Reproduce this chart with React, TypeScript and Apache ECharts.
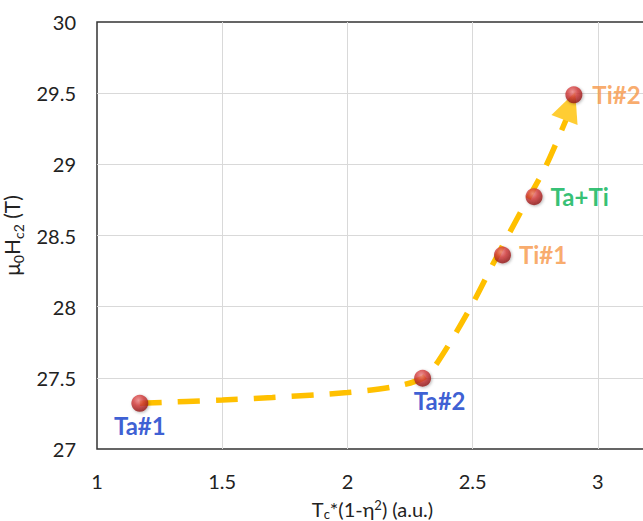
import React, { useEffect, useRef } from "react";
import * as echarts from "echarts";

// Samples
const sampleNames = ["Ta#1", "Ta#2", "Ti#1", "Ta+Ti", "Ti#2"];
const tcEta = [1.171, 2.3, 2.619, 2.745, 2.904];
const hc2 = [27.321, 27.497, 28.363, 28.773, 29.488];
const labelColors = ["#0A36C8", "#0A36C8", "#F79646", "#00B050", "#F79646"];

// Hand-drawn trend arrow path
const trendX = [1.171, 1.5, 1.7, 2.0, 2.18, 2.3, 2.36, 2.49, 2.59, 2.69, 2.79, 2.872];
const trendY = [27.321, 27.344, 27.362, 27.397, 27.436, 27.497, 27.61, 27.99, 28.33, 28.66, 28.98, 29.31];
const arrowHeadX = [2.888];
const arrowHeadY = [29.41];

// Axes
const xMin = 1;
const xMax = 3.2;
const xStep = 0.5;
const yMin = 27;
const yMax = 30;
const yStep = 0.5;

const FONT = "Lato";

export default function App() {
  const ref = useRef<HTMLDivElement>(null);

  useEffect(() => {
    if (!ref.current) return;
    const chart = echarts.init(ref.current, null, { renderer: "svg" });

    const sphere = new echarts.graphic.RadialGradient(0.42, 0.32, 0.7, [
      { offset: 0, color: "#f28a8a" },
      { offset: 0.45, color: "#d33a3a" },
      { offset: 1, color: "#8a1212" },
    ]);

    const labelPos: any[] = [
      { position: "bottom", distance: 2, offset: [0, 0] },
      { position: "bottom", distance: 2, offset: [17, 0] },
      { position: "right", distance: 8, offset: [0, 0] },
      { position: "right", distance: 8, offset: [0, 0] },
      { position: "right", distance: 10, offset: [0, 0] },
    ];

    const pointData = sampleNames.map((n, i) => ({
      name: n,
      value: [tcEta[i], hc2[i]],
      label: {
        show: true,
        formatter: n,
        color: labelColors[i],
        fontFamily: FONT,
        fontWeight: "bold",
        fontSize: 24,
        ...labelPos[i],
      },
    }));

    chart.setOption({
      animation: false,
      backgroundColor: "#ffffff",
      grid: {
        left: 97,
        top: 22,
        bottom: 72,
        right: -5,
        outerBoundsMode: "none",
        containLabel: false,
        show: true,
        borderColor: "#333333",
        borderWidth: 1.5,
        backgroundColor: "transparent",
      },
      xAxis: {
        type: "value",
        min: xMin,
        max: xMax,
        interval: xStep,
        axisLine: { show: false },
        axisTick: { show: false },
        axisLabel: {
          color: "#222222",
          fontFamily: FONT,
          fontSize: 20,
          margin: 22,
          showMaxLabel: false,
        },
        splitLine: {
          show: true,
          showMinLine: false,
          showMaxLine: false,
          lineStyle: { color: "#d9d9d9", width: 1 },
        },
        name: "{a|T}{s|c}{a|*(1-η}{p|2}{a|) (a.u.)}",
        nameLocation: "middle",
        nameGap: 49,
        nameTextStyle: {
          color: "#222222",
          fontFamily: FONT,
          rich: {
            a: { fontSize: 20, fontFamily: FONT, color: "#222222", lineHeight: 22 },
            s: { fontSize: 13, fontFamily: FONT, color: "#222222", lineHeight: 22, verticalAlign: "bottom" },
            p: { fontSize: 13, fontFamily: FONT, color: "#222222", lineHeight: 22, verticalAlign: "top" },
          },
        },
      },
      yAxis: {
        type: "value",
        min: yMin,
        max: yMax,
        interval: yStep,
        axisLine: { show: false },
        axisTick: { show: false },
        axisLabel: {
          color: "#222222",
          fontFamily: FONT,
          fontSize: 20,
          margin: 21,
        },
        splitLine: {
          show: true,
          showMinLine: false,
          showMaxLine: false,
          lineStyle: { color: "#d9d9d9", width: 1 },
        },
        name: "{a|μ}{s|0}{a|H}{s|c2}{a| (T)}",
        nameLocation: "middle",
        nameGap: 60,
        nameTextStyle: {
          color: "#222222",
          fontFamily: FONT,
          rich: {
            a: { fontSize: 21, fontFamily: FONT, color: "#222222", lineHeight: 28 },
            s: { fontSize: 14, fontFamily: FONT, color: "#222222", lineHeight: 28, verticalAlign: "bottom" },
          },
        },
      },
      series: [
        {
          type: "line",
          data: trendX.map((x, i) => [x, trendY[i]]),
          smooth: 0.3,
          symbol: "none",
          lineStyle: { color: "#FFC000", width: 5.5, type: [22, 16], cap: "butt" },
          z: 2,
          silent: true,
        },
        {
          type: "scatter",
          data: arrowHeadX.map((x, i) => [x, arrowHeadY[i]]),
          symbol: "triangle",
          symbolSize: [28, 30],
          symbolRotate: -21,
          itemStyle: { color: "#FFC000" },
          z: 3,
          silent: true,
        },
        {
          type: "scatter",
          data: pointData,
          symbol: "circle",
          symbolSize: 17,
          itemStyle: {
            color: sphere,
            shadowColor: "rgba(0,0,0,0.35)",
            shadowBlur: 3,
            shadowOffsetX: 1,
            shadowOffsetY: 1,
          },
          z: 4,
        },
      ],
    });

    return () => chart.dispose();
  }, []);

  return (
    <div
      ref={ref}
      style={{ position: "absolute", left: 0, top: 0, width: 643, height: 521 }}
    />
  );
}
